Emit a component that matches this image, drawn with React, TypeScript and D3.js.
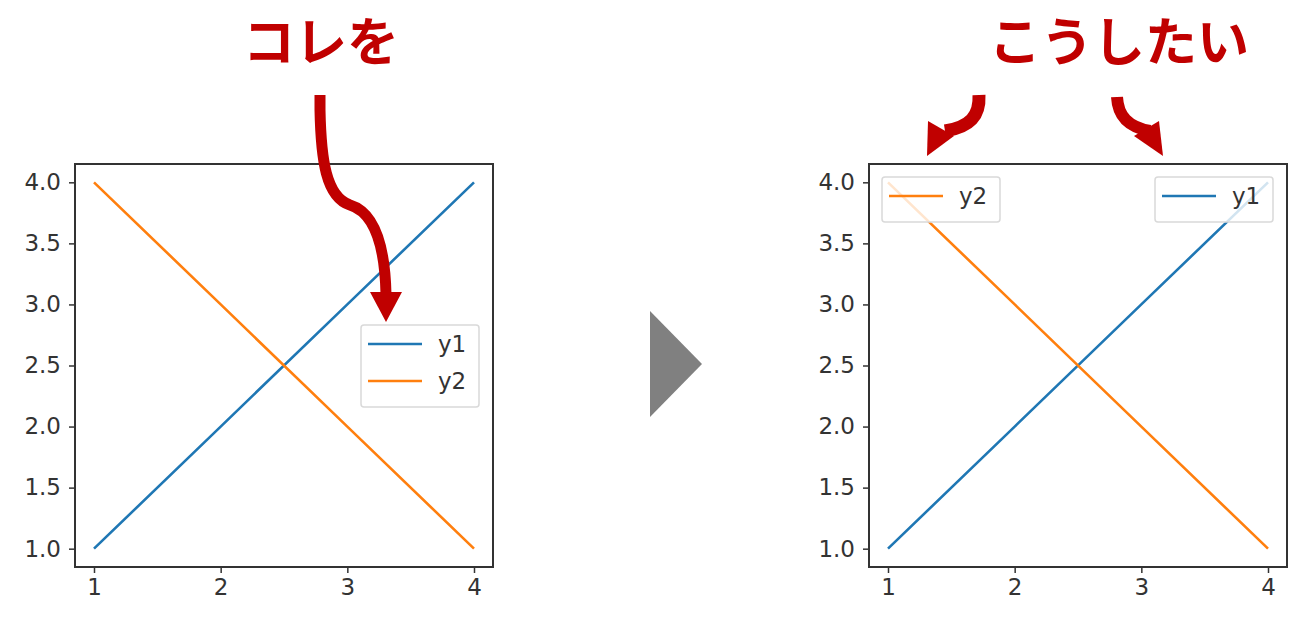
import * as d3 from "d3";
import { useEffect, useRef } from "react";

const xValues = [1, 2, 3, 4];
const y1Values = [1, 2, 3, 4];
const y2Values = [4, 3, 2, 1];
const yTicks = [1.0, 1.5, 2.0, 2.5, 3.0, 3.5, 4.0];
const xTicks = [1, 2, 3, 4];
const leftTitle = "コレを";
const rightTitle = "こうしたい";

const BLUE = "#1f77b4";
const ORANGE = "#ff7f0e";
const RED = "#c00000";
const FONT = "DejaVu Sans, sans-serif";

const App = () => {
  const ref = useRef<SVGSVGElement>(null);

  useEffect(() => {
    const svg = d3.select(ref.current);
    svg.selectAll("*").remove();
    const width = 1300;
    const height = 627;
    svg.attr("width", width).attr("height", height);

    svg.append("rect").attr("width", width).attr("height", height).attr("fill", "#fff");

    const drawChart = (left: number, right: number, legends: { name: string; color: string; x: number }[][]) => {
      const top = 164;
      const bottom = 567;
      const xScale = d3.scaleLinear().domain([0.85, 4.15]).range([left, right]);
      const yScale = d3.scaleLinear().domain([0.85, 4.15]).range([bottom, top]);
      const g = svg.append("g");

      const line = d3
        .line<number>()
        .x((_, i) => xScale(xValues[i]))
        .y((d) => yScale(d));

      g.append("path").attr("d", line(y1Values)).attr("fill", "none").attr("stroke", BLUE).attr("stroke-width", 2.6);
      g.append("path").attr("d", line(y2Values)).attr("fill", "none").attr("stroke", ORANGE).attr("stroke-width", 2.6);

      // axes
      const yAxis = d3.axisLeft(yScale).tickValues(yTicks).tickFormat(d3.format(".1f")).tickSize(6).tickPadding(8);
      const xAxis = d3.axisBottom(xScale).tickValues(xTicks).tickFormat(d3.format("d")).tickSize(6).tickPadding(6);
      const ya = g.append("g").attr("transform", `translate(${left},0)`).call(yAxis);
      const xa = g.append("g").attr("transform", `translate(0,${bottom})`).call(xAxis);
      [ya, xa].forEach((a) => {
        a.select(".domain").remove();
        a.selectAll("line").attr("stroke", "#333").attr("stroke-width", 1.5);
        a.selectAll("text").attr("fill", "#333").attr("font-family", FONT).attr("font-size", 23);
      });

      g.append("rect")
        .attr("x", left)
        .attr("y", top)
        .attr("width", right - left)
        .attr("height", bottom - top)
        .attr("fill", "none")
        .attr("stroke", "#333")
        .attr("stroke-width", 2);

      // legends
      legends.forEach((items) => {
        const boxX = items[0].x;
        const boxY = items.length > 1 ? 325 : 177;
        const rowH = 37;
        const boxH = items.length * rowH + 8;
        const lg = g.append("g").attr("transform", `translate(${boxX},${boxY})`);
        lg.append("rect")
          .attr("width", 118)
          .attr("height", boxH)
          .attr("rx", 3)
          .attr("fill", "#fff")
          .attr("fill-opacity", 0.8)
          .attr("stroke", "#d9d9d9")
          .attr("stroke-width", 1.5);
        items.forEach((it, i) => {
          const cy = 19 + i * rowH;
          lg.append("line")
            .attr("x1", 7)
            .attr("x2", 61)
            .attr("y1", cy)
            .attr("y2", cy)
            .attr("stroke", it.color)
            .attr("stroke-width", 2.6);
          lg.append("text")
            .attr("x", 77)
            .attr("y", cy + 8)
            .attr("fill", "#333")
            .attr("font-family", FONT)
            .attr("font-size", 23)
            .text(it.name);
        });
      });
    };

    drawChart(75, 493, [
      [
        { name: "y1", color: BLUE, x: 361 },
        { name: "y2", color: ORANGE, x: 361 },
      ],
    ]);
    drawChart(869, 1287, [
      [{ name: "y2", color: ORANGE, x: 882 }],
      [{ name: "y1", color: BLUE, x: 1155 }],
    ]);

    // titles
    const titleFont = "Noto Sans CJK JP, sans-serif";
    [
      { text: leftTitle, x: 321 },
      { text: rightTitle, x: 1119 },
    ].forEach((t) => {
      svg.append("text")
        .attr("x", t.x)
        .attr("y", 61)
        .attr("text-anchor", "middle")
        .attr("font-family", titleFont)
        .attr("font-weight", 700)
        .attr("font-size", 52)
        .attr("fill", RED)
        .text(t.text);
    });

    // arrows
    const arrow = (d: string, head: [number, number][], w: number) => {
      svg.append("path")
        .attr("d", d)
        .attr("fill", "none")
        .attr("stroke", RED)
        .attr("stroke-width", w);
      svg.append("polygon").attr("points", head.map((p) => p.join(",")).join(" ")).attr("fill", RED);
    };
    arrow(
      "M320,95 L320,110 C321,160 326,197 350,205 C376,213 385,250 386,294",
      [
        [370, 292],
        [402, 292],
        [386, 322],
      ],
      11
    );
    arrow(
      "M979,95 C980,116 970,127 945,131",
      [
        [928, 121],
        [954, 136],
        [927, 156],
      ],
      13
    );
    arrow(
      "M1117,97 C1118,116 1128,127 1150,131",
      [
        [1159, 121],
        [1134, 136],
        [1163, 156],
      ],
      12
    );

    // middle triangle
    svg.append("polygon").attr("points", "650,311 650,417 702,364").attr("fill", "#808080");
  }, []);

  return <svg ref={ref} style={{ position: "absolute", left: 0, top: 0, display: "block" }}></svg>;
};

export default App;
